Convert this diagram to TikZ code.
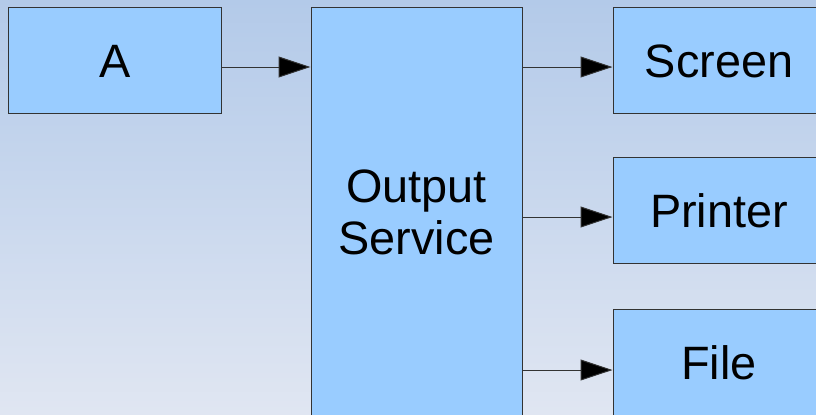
\documentclass[tikz,border=0pt]{standalone}
\usepackage{fontspec}
\setmainfont{Liberation Sans}
\usetikzlibrary{arrows.meta}
\definecolor{boxfill}{HTML}{99CCFF}
\definecolor{bgtop}{HTML}{B3CAE9}
\definecolor{bgbot}{HTML}{E0E6F2}
\definecolor{edge}{HTML}{333333}
\begin{document}
\begin{tikzpicture}[x=1bp,y=-1bp,
  blk/.style={draw=edge, line width=1bp, fill=boxfill, minimum width=212bp,
    minimum height=106bp, inner sep=0pt, font=\fontsize{47}{52}\selectfont,
    text height=34bp, text depth=0pt},
  tall/.style={draw=edge, line width=1bp, fill=boxfill, minimum width=211bp,
    minimum height=410bp, inner sep=0pt, font=\fontsize{47}{52}\selectfont,
    align=center},
  arr/.style={draw=edge, line width=1bp, -{Triangle[length=32bp,width=21bp,fill=black]}}]
\useasboundingbox (0,0) rectangle (816,414);
\shade[top color=bgtop, bottom color=bgbot] (0,0) rectangle (816,414);
\node[blk] (A) at (115,60) {A};
\node[tall] (OS) at (416.5,212) {Output\\Service};
\node[blk] (Sc) at (719,60) {Screen};
\node[blk] (Pr) at (719,210.5) {Printer};
\node[blk] (Fi) at (719,362) {File};
\draw[arr] (A.east |- 0,67) -- (OS.west |- 0,67);
\draw[arr] (OS.east |- 0,67) -- (Sc.west |- 0,67);
\draw[arr] (OS.east |- 0,217) -- (Pr.west |- 0,217);
\draw[arr] (OS.east |- 0,370) -- (Fi.west |- 0,370);
\end{tikzpicture}
\end{document}
